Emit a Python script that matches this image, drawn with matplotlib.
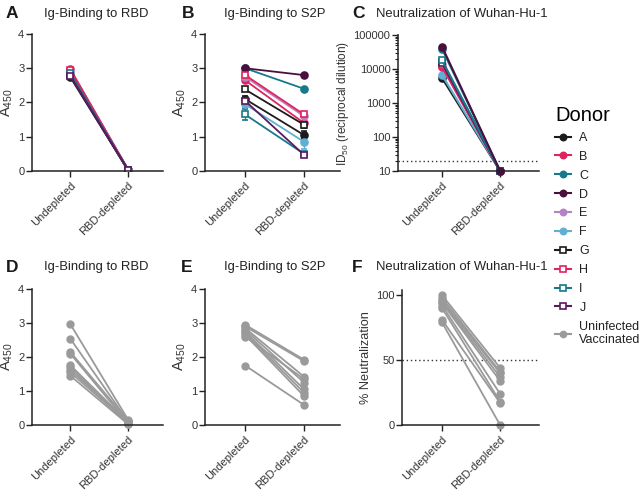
import matplotlib
matplotlib.use("Agg")
import matplotlib.pyplot as plt
from matplotlib.lines import Line2D
import numpy as np

plt.rcParams['font.family'] = ['Liberation Sans', 'DejaVu Sans']
plt.rcParams['mathtext.default'] = 'regular'

categories = ["Undepleted", "RBD-depleted"]
donors = ["A", "B", "C", "D", "E", "F", "G", "H", "I", "J"]
donor_colors = ["#1c1c1c", "#e0245e", "#19788c", "#4b0f3e", "#b383c4",
                "#5fb0d4", "#1c1c1c", "#e0245e", "#19788c", "#5a1a5e"]
donor_markers = ["o"] * 6 + ["s"] * 4

# Panel A: Ig-binding to RBD (A450), donors
rbd_infected_undep = [2.75, 2.97, 2.85, 2.80, 2.90, 2.88, 2.82, 2.95, 2.86, 2.78]
rbd_infected_dep = [0.02, 0.03, 0.02, 0.02, 0.03, 0.02, 0.02, 0.03, 0.02, 0.02]

# Panel B: Ig-binding to S2P (A450), donors
s2p_infected_undep = [2.10, 2.65, 3.00, 3.00, 2.75, 1.95, 2.38, 2.80, 1.65, 2.05]
s2p_infected_dep = [1.05, 1.40, 2.40, 2.80, 1.60, 0.85, 1.35, 1.65, 0.50, 0.47]
s2p_err_undep = [0.08, 0.05, 0.03, 0.03, 0.05, 0.12, 0.05, 0.05, 0.15, 0.05]
s2p_err_dep = [0.12, 0.05, 0.03, 0.03, 0.05, 0.20, 0.10, 0.08, 0.05, 0.05]

# Panel C: ID50 neutralization, donors
id50_undep = [5400, 11500, 39000, 45000, 14000, 6600, 16000, 13000, 18000, 15000]
id50_dep = [10, 10, 10, 10, 10, 10, 10, 10, 10, 10]
id50_limit = 20

# Panels D-F: uninfected vaccinated
vacc_rbd_undep = [2.97, 2.54, 2.15, 2.10, 1.76, 1.70, 1.62, 1.55, 1.45]
vacc_rbd_dep = [0.15, 0.10, 0.12, 0.05, 0.08, 0.03, 0.10, 0.06, 0.02]
vacc_s2p_undep = [2.95, 2.90, 2.85, 2.80, 2.75, 2.70, 2.65, 2.60, 1.75]
vacc_s2p_dep = [1.92, 1.88, 1.42, 1.25, 1.05, 0.95, 0.85, 1.35, 0.59]
vacc_neut_undep = [100, 98, 96, 95, 94, 92, 90, 81, 79]
vacc_neut_dep = [44, 41, 40, 37, 34, 24, 18, 17, 0]
neut_threshold = 50

grey = "#9a9a9a"

W, H = 640, 490
fig = plt.figure(figsize=(W / 100, H / 100), dpi=100)


def add_ax(left, right, top, bottom):
    return fig.add_axes([left / W, 1 - bottom / H, (right - left) / W, (bottom - top) / H])


def style(ax, xl, xr):
    x = np.arange(len(categories))
    ax.set_xticks(x)
    ax.set_xticklabels(categories, rotation=45, ha='right', rotation_mode='anchor', fontsize=7.5)
    ax.set_xlim(xl, xr)
    for s in ['top', 'right']:
        ax.spines[s].set_visible(False)
    for s in ['left', 'bottom']:
        ax.spines[s].set_linewidth(1.1)
        ax.spines[s].set_color('#222222')
    ax.tick_params(axis='both', width=1.0, length=4, color='#222222', labelsize=8, labelcolor='#333333')
    ax.tick_params(axis='y', pad=1.5)
    ax.tick_params(axis='x', pad=3)


x = np.arange(len(categories))

# Panel A
axA = add_ax(32, 163, 34, 171)
for i in range(len(donors)):
    mfc = donor_colors[i] if donor_markers[i] == 'o' else 'white'
    axA.plot(x, [rbd_infected_undep[i], rbd_infected_dep[i]], color=donor_colors[i], lw=1.5,
             marker=donor_markers[i], ms=5, mfc=mfc, mec=donor_colors[i], mew=1.2)
axA.set_ylim(0, 4)
axA.set_yticks([0, 1, 2, 3, 4])
axA.set_ylabel('A$_{450}$', fontsize=10.5, color='#333333', labelpad=2)
style(axA, -0.66, 1.6)

# Panel B
axB = add_ax(205, 340, 34, 171)
for i in range(len(donors)):
    mfc = donor_colors[i] if donor_markers[i] == 'o' else 'white'
    axB.errorbar(x, [s2p_infected_undep[i], s2p_infected_dep[i]],
                 yerr=[s2p_err_undep[i], s2p_err_dep[i]], color=donor_colors[i], lw=1.3,
                 marker=donor_markers[i], ms=5, mfc=mfc, mec=donor_colors[i], mew=1.2,
                 capsize=2, elinewidth=1.0)
axB.set_ylim(0, 4)
axB.set_yticks([0, 1, 2, 3, 4])
axB.set_ylabel('A$_{450}$', fontsize=10.5, color='#333333', labelpad=2)
style(axB, -0.68, 1.61)

# Panel C
axC = add_ax(398, 539, 35, 171)
axC.axhline(id50_limit, color='#333333', lw=1.0, ls=(0, (1, 2)))
order = [0, 5, 1, 4, 7, 6, 9, 8, 2, 3]
for i in order:
    mfc = donor_colors[i] if donor_markers[i] == 'o' else 'white'
    axC.plot(x, [id50_undep[i], id50_dep[i]], color=donor_colors[i], lw=1.5,
             marker=donor_markers[i], ms=5, mfc=mfc, mec=donor_colors[i], mew=1.2, clip_on=False)
axC.set_yscale('log')
axC.set_ylim(10, 100000)
axC.set_yticks([10, 100, 1000, 10000, 100000])
axC.set_yticklabels(['10', '100', '1000', '10000', '100000'])
axC.tick_params(axis='y', which='minor', length=2.5, width=0.8, color='#222222')
style(axC, -0.76, 1.67)
axC.set_ylabel('ID$_{50}$ (reciprocal dilution)', fontsize=8.5, color='#333333', labelpad=2)

# Panel D
axD = add_ax(32, 163, 289, 425)
for u, d in zip(vacc_rbd_undep, vacc_rbd_dep):
    axD.plot(x, [u, d], color=grey, lw=1.3, marker='o', ms=5, clip_on=False)
axD.set_ylim(0, 4)
axD.set_yticks([0, 1, 2, 3, 4])
axD.set_ylabel('A$_{450}$', fontsize=10.5, color='#333333', labelpad=2)
style(axD, -0.66, 1.6)

# Panel E
axE = add_ax(205, 340, 289, 425)
for u, d in zip(vacc_s2p_undep, vacc_s2p_dep):
    axE.plot(x, [u, d], color=grey, lw=1.3, marker='o', ms=5, clip_on=False)
axE.set_ylim(0, 4)
axE.set_yticks([0, 1, 2, 3, 4])
axE.set_ylabel('A$_{450}$', fontsize=10.5, color='#333333', labelpad=2)
style(axE, -0.68, 1.61)

# Panel F
axF = add_ax(402, 539, 290, 425)
axF.axhline(neut_threshold, color='#333333', lw=1.0, ls=(0, (1, 2)))
for u, d in zip(vacc_neut_undep, vacc_neut_dep):
    axF.plot(x, [u, d], color=grey, lw=1.3, marker='o', ms=5, clip_on=False)
axF.set_ylim(0, 104)
axF.set_yticks([0, 50, 100])
style(axF, -0.69, 1.67)
axF.set_ylabel('% Neutralization', fontsize=9.2, color='#333333', labelpad=3)

# Titles and panel letters
titles = [("A", 6, 14, "Ig-Binding to RBD", 96),
          ("B", 182, 14, "Ig-Binding to S2P", 275),
          ("C", 352, 14, "Neutralization of Wuhan-Hu-1", 462),
          ("D", 6, 267, "Ig-Binding to RBD", 96),
          ("E", 181, 267, "Ig-Binding to S2P", 275),
          ("F", 352, 267, "Neutralization of Wuhan-Hu-1", 462)]
for letter, lx, ly, t, tx in titles:
    fig.text(lx / W, 1 - ly / H, letter, fontsize=12.5, fontweight='bold', ha='left', va='center',
             color='#1a1a1a')
    fig.text(tx / W, 1 - ly / H, t, fontsize=9.4, ha='center', va='center', color='#222222')

# Legend
handles = []
for i, dn in enumerate(donors):
    mfc = donor_colors[i] if donor_markers[i] == 'o' else 'white'
    handles.append(Line2D([], [], color=donor_colors[i], lw=1.5, marker=donor_markers[i], ms=4.5,
                          mfc=mfc, mec=donor_colors[i], mew=1.2, label=dn))
handles.append(Line2D([], [], color=grey, lw=1.5, marker='o', ms=4.5, label='Uninfected\nVaccinated'))
leg = fig.legend(handles=handles, loc='upper left', bbox_to_anchor=(555 / W, 1 - 106 / H),
                 frameon=False, title='Donor', title_fontsize=14.5, fontsize=9,
                 handlelength=1.3, handletextpad=0.65, labelspacing=0.55, alignment='left',
                 borderaxespad=0, borderpad=0)
for t in leg.get_texts():
    t.set_color('#222222')

fig.savefig('out.png', dpi=100)
